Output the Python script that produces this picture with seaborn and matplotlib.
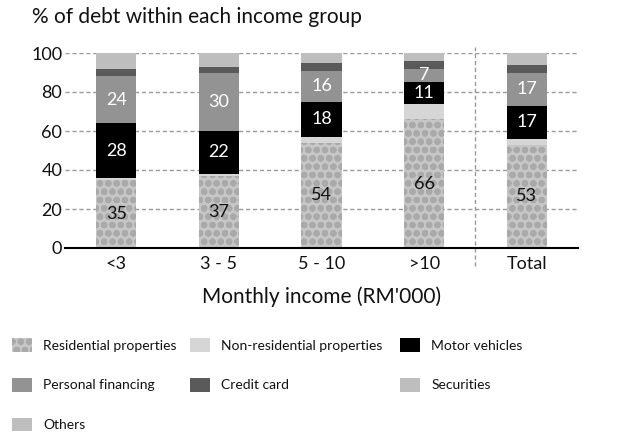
import numpy as np
import pandas as pd
import matplotlib
matplotlib.use("Agg")
import matplotlib.pyplot as plt
from matplotlib.patches import Patch
import seaborn as sns

# Data (% of debt within each income group)
groups = ["<3", "3 - 5", "5 - 10", ">10", "Total"]
residential = [35, 37, 54, 66, 53]
non_residential = [1, 1, 3, 8, 3]
motor = [28, 22, 18, 11, 17]
personal = [24, 30, 16, 7, 17]
credit_card = [4, 3, 4, 4, 4]
securities = [1, 1, 1, 1, 1]
others = [7, 6, 4, 3, 5]

names = ["Residential properties", "Non-residential properties", "Motor vehicles",
         "Personal financing", "Credit card", "Securities", "Others"]
series = [residential, non_residential, motor, personal, credit_card, securities, others]
colours = ["#c6c6c6", "#d6d6d6", "#000000", "#939393", "#5a5a5a", "#bebebe", "#bebebe"]
# which series carry a value label, and in what colour
label_colour = {0: "#111111", 2: "white", 3: "white"}

sns.set_theme(style="white")
plt.rcParams["font.family"] = ["Lato", "DejaVu Sans"]
plt.rcParams["hatch.linewidth"] = 2.2

fig = plt.figure(figsize=(6.42, 4.33), dpi=100)
ax = fig.add_axes([65 / 642, 1 - 248 / 433, 513 / 642, 195 / 433])

vals = np.array(series, dtype=float)
tops = np.cumsum(vals, axis=0)
bottoms = tops - vals

# stacked bars: draw cumulative heights from the top layer down
for k in range(len(series) - 1, -1, -1):
    df = pd.DataFrame({"group": groups, "top": tops[k]})
    kw = dict(color=colours[k], linewidth=0, edgecolor=colours[k])
    if k == 0:
        kw.update(hatch="oo", edgecolor="#a9a9a9")
    sns.barplot(data=df, x="group", y="top", order=groups, width=0.39,
                saturation=1, errorbar=None, ax=ax, zorder=3, **kw)

# value labels
for k, col in label_colour.items():
    for i, g in enumerate(groups):
        ax.text(i, bottoms[k][i] + vals[k][i] / 2, str(series[k][i]), ha="center",
                va="center", color=col, fontsize=13, zorder=5)

ax.set_xlim(-0.5, len(groups) - 0.5)
ax.set_ylim(0, 100)
ax.set_yticks([0, 20, 40, 60, 80, 100])
ax.set_xlabel("")
ax.set_ylabel("")
ax.yaxis.grid(True, color="#9a9a9a", linestyle=(0, (3, 2)), linewidth=1, zorder=0)
ax.xaxis.grid(False)
for s in ["top", "right", "left"]:
    ax.spines[s].set_visible(False)
ax.spines["bottom"].set_color("black")
ax.spines["bottom"].set_linewidth(1.5)
ax.spines["bottom"].set_zorder(6)
ax.tick_params(axis="y", length=0, pad=2, labelsize=13, labelcolor="#111111")
ax.tick_params(axis="x", which="major", length=0, pad=6, labelsize=13, labelcolor="#111111")
ax.set_xticks(np.arange(-0.5, len(groups)), minor=True)
ax.tick_params(axis="x", which="minor", length=4, width=1.2, color="black", direction="out")

# separator before Total
ax.axvline(3.5, ymin=-0.09, ymax=1.03, color="#9a9a9a", linestyle=(0, (3, 2)),
           linewidth=1, clip_on=False, zorder=1)

fig.text(32 / 642, 1 - 7 / 433, "% of debt within each income group", fontsize=15,
         ha="left", va="top", color="#111111")
fig.text((65 + 578) / 2 / 642, 1 - 297 / 433, "Monthly income (RM'000)", fontsize=15,
         ha="center", va="center", color="#111111")

# legend, three columns placed separately
def make_handle(k):
    if k == 0:
        return Patch(facecolor=colours[0], edgecolor="#a9a9a9", hatch="oo", linewidth=0)
    return Patch(facecolor=colours[k], edgecolor=colours[k], linewidth=0)

columns = [([0, 3, 6], 12), ([1, 4], 190), ([2, 5], 400)]
for idx, xpix in columns:
    leg = fig.legend([make_handle(k) for k in idx], [names[k] for k in idx],
                     loc="upper left", bbox_to_anchor=(xpix / 642, 1 - 338 / 433),
                     frameon=False, fontsize=10, handlelength=1.44, handleheight=1.15,
                     handletextpad=0.8, labelspacing=1.87, borderpad=0, borderaxespad=0)
    for t in leg.get_texts():
        t.set_color("#111111")

fig.savefig("out.png", dpi=100)
